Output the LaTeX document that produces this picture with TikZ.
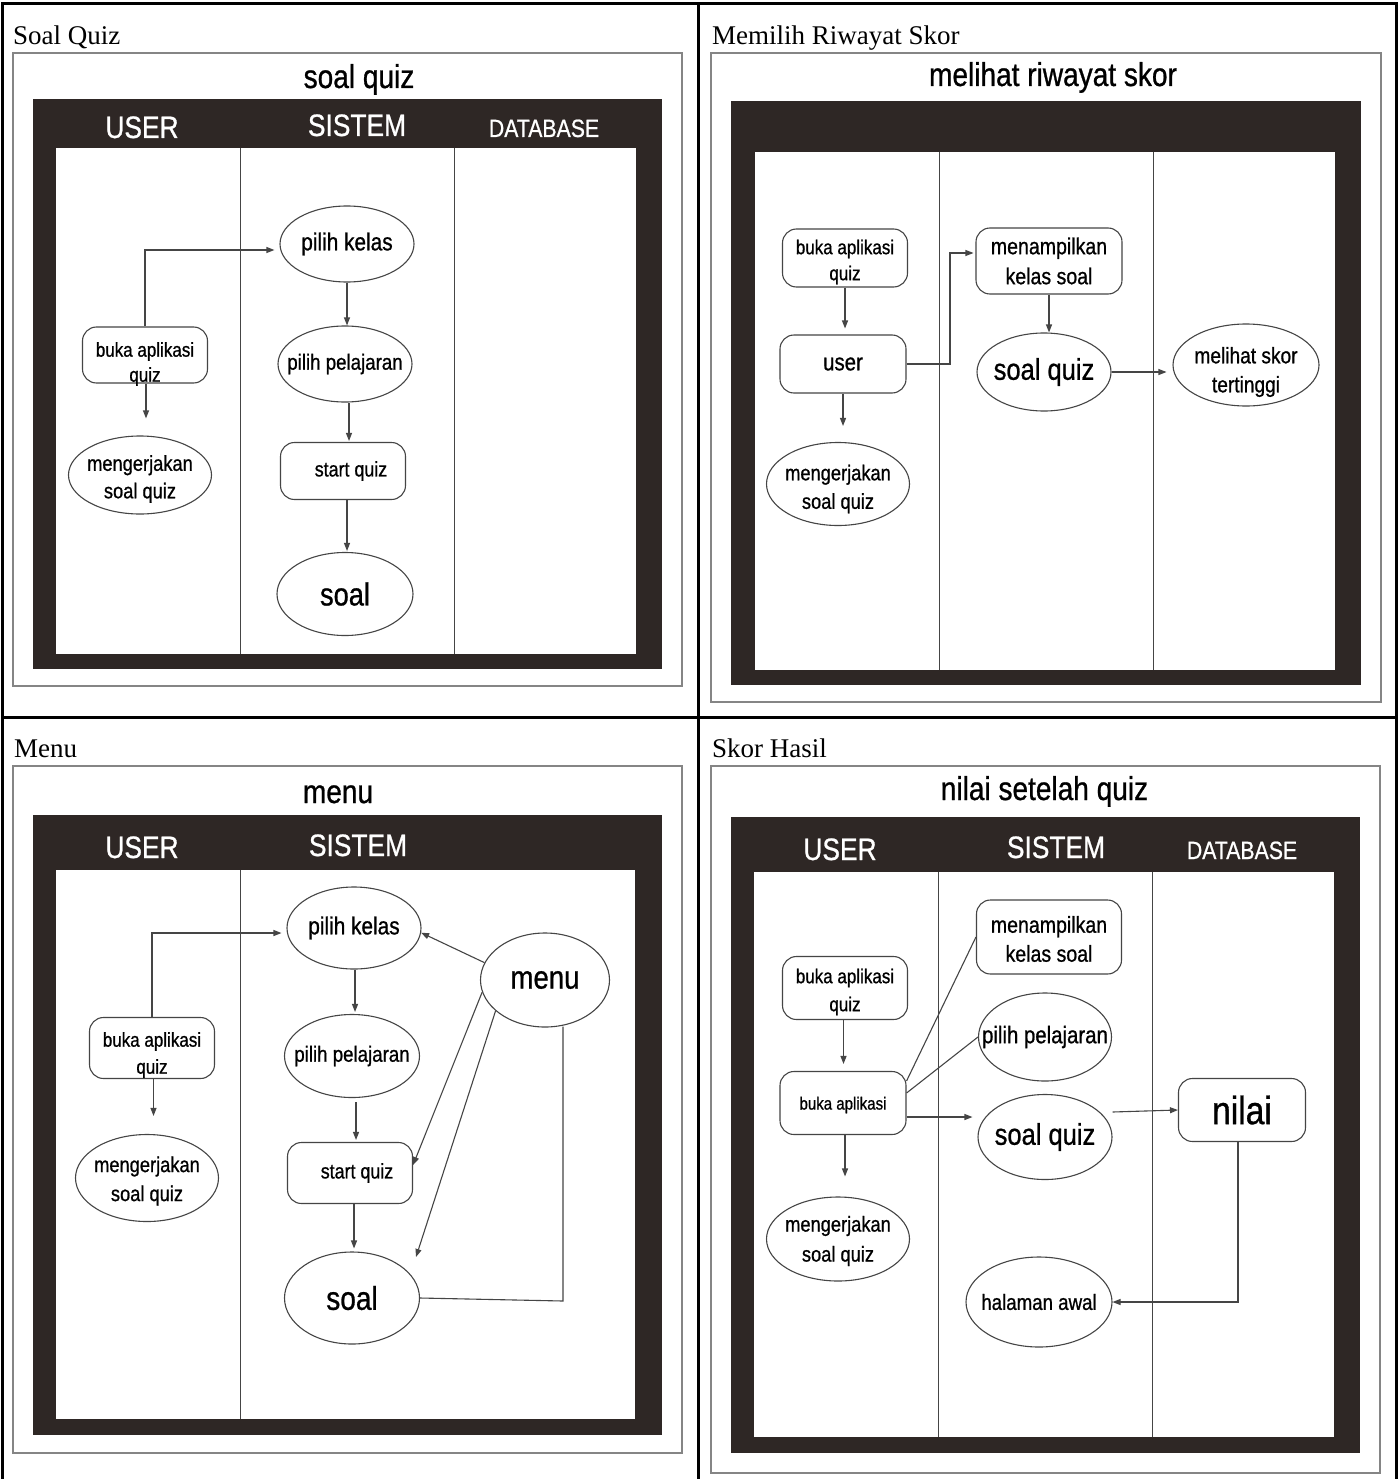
\documentclass[tikz,border=0pt]{standalone}
\usepackage{fontspec}
\setmainfont{Liberation Serif}
\newfontfamily\nf[FakeStretch=0.85,FakeBold=0.8]{Liberation Sans}
\usetikzlibrary{shapes.geometric,arrows.meta,calc}
\definecolor{boxdark}{HTML}{2E2725}
\definecolor{framegray}{HTML}{858585}
\definecolor{linegray}{HTML}{454545}
\newcommand\fz[2]{\fontsize{#1}{#2}\selectfont}
\begin{document}
\begin{tikzpicture}[x=1pt,y=-1pt,
  ell/.style={ellipse, draw=linegray, line width=1.1pt, fill=white, inner sep=0pt},
  rr/.style={rectangle, rounded corners=14pt, draw=linegray, line width=1.1pt, fill=white, inner sep=0pt},
  txt/.style={inner sep=0pt, align=center, font=\nf},
  conn/.style={draw=linegray, line width=1.1pt},
  arr/.style={conn, -{Triangle[length=8pt,width=6pt]}},
  captxt/.style={anchor=base west, font={\fz{27}{30}}, inner sep=0pt},
  ttl/.style={anchor=base, font={\nf\fz{33}{36}}, inner sep=0pt},
  hdr/.style={anchor=base, text=white, font={\nf\fz{31}{34}}, inner sep=0pt},
  hdrs/.style={anchor=base, text=white, font={\nf\fz{25}{28}}, inner sep=0pt},
  frm/.style={draw=framegray, line width=1.2pt},
  lane/.style={draw=linegray, line width=0.9pt},
  gridline/.style={draw=black, line width=3pt}
]
\useasboundingbox (0,0) rectangle (1399,1479);
\fill[white] (0,0) rectangle (1399,1479);

% outer table
\draw[gridline] (1,4) -- (1398,4);
\draw[gridline] (1,717) -- (1398,717);
\draw[gridline] (2,4) -- (2,1479);
\draw[gridline] (698,4) -- (698,1479);
\draw[gridline] (1396,4) -- (1396,1479);

% ================= Panel 1: Soal Quiz =================
\node[captxt] (cap1) at (13,45) {Soal Quiz};
\draw[frm] (13,53) rectangle (682,686);
\fill[boxdark] (33,99) rectangle (662,669);
\fill[white] (56,148) rectangle (636,654);
\draw[lane] (240,148) -- (240,654);
\draw[lane] (454,148) -- (454,654);
\node[ttl] (ttl1) at (359,88) {soal quiz};
\node[hdr] (h1u) at (142,138) {USER};
\node[hdr] (h1s) at (357,136) {SISTEM};
\node[hdrs] (h1d) at (544,137) {DATABASE};

\node[ell, minimum width=134pt, minimum height=76pt] (pk1) at (347,244) {};
\node[txt, font={\nf\fz{24.5}{28}}] (pk1t) at (pk1) {pilih kelas};
\node[ell, minimum width=134pt, minimum height=76pt] (pp1) at (345,364) {};
\node[txt, font={\nf\fz{22}{26}}] (pp1t) at (pp1) {pilih pelajaran};
\node[rr, minimum width=125pt, minimum height=57pt] (sq1) at (343,471) {};
\node[txt, font={\nf\fz{21}{25}}] (sq1t) at ([xshift=8pt]sq1.center) {start quiz};
\node[ell, minimum width=136pt, minimum height=83pt] (soal1) at (345,594) {};
\node[txt, font={\nf\fz{32}{36}}] (soal1t) at (soal1) {soal};
\node[rr, minimum width=125pt, minimum height=56pt] (buka1) at (145,355) {};
\node[txt, font={\nf\fz{20}{25}}] (buka1t) at ([yshift=-9pt]buka1.center) {buka aplikasi\\quiz};
\node[ell, minimum width=143pt, minimum height=78pt] (mk1) at (140,475) {};
\node[txt, font={\nf\fz{21.5}{27.5}}] (mk1t) at ([yshift=-4pt]mk1.center) {mengerjakan\\soal quiz};

\draw[arr, shorten >=5pt] (buka1.north) |- ([yshift=-6pt]pk1.west);
\draw[arr, shorten >=17pt] ([xshift=1pt]buka1.south) -- ([xshift=1pt]buka1.south |- mk1.north);
\draw[arr] (pk1.south) -- (pk1.south |- pp1.north);
\draw[arr, shorten >=1pt] ([xshift=4pt]pp1.south) -- ([xshift=4pt]pp1.south |- sq1.north);
\draw[arr, shorten >=1pt] ([xshift=4pt]sq1.south) -- ([xshift=4pt]sq1.south |- soal1.north);

% ================= Panel 2: Memilih Riwayat Skor =================
\node[captxt] (cap2) at (712,45) {Memilih Riwayat Skor};
\draw[frm] (711,53) rectangle (1381,702);
\fill[boxdark] (731,101) rectangle (1361,685);
\fill[white] (754.5,152) rectangle (1335,670);
\draw[lane] (939,152) -- (939,670);
\draw[lane] (1153,152) -- (1153,670);
\node[ttl] (ttl2) at (1053,86) {melihat riwayat skor};

\node[rr, minimum width=125pt, minimum height=58pt] (buka2) at (845,258) {};
\node[txt, font={\nf\fz{20}{26}}] (buka2t) at ([yshift=-4pt]buka2.center) {buka aplikasi\\quiz};
\node[rr, minimum width=126pt, minimum height=58pt] (user2) at (843,364) {};
\node[txt, font={\nf\fz{24}{28}}] (user2t) at (user2) {user};
\node[ell, minimum width=143pt, minimum height=83pt] (mk2) at (838,484) {};
\node[txt, font={\nf\fz{21.5}{28.5}}] (mk2t) at ([yshift=-5pt]mk2.center) {mengerjakan\\soal quiz};
\node[rr, minimum width=146pt, minimum height=66pt] (mt2) at (1049,261) {};
\node[txt, font={\nf\fz{23}{30}}] (mt2t) at (mt2) {menampilkan\\kelas soal};
\node[ell, minimum width=134pt, minimum height=78pt] (sq2) at (1044,372) {};
\node[txt, font={\nf\fz{30}{34}}] (sq2t) at (sq2) {soal quiz};
\node[ell, minimum width=146pt, minimum height=82pt] (ms2) at (1246,365) {};
\node[txt, font={\nf\fz{22.5}{29}}] (ms2t) at ([yshift=-7pt]ms2.center) {melihat skor\\tertinggi};

\coordinate (k2) at (950,253);
\draw[arr, shorten >=6pt] (buka2.south) -- (buka2.south |- user2.north);
\draw[arr, shorten >=16pt] (user2.south) -- (user2.south |- mk2.north);
\draw[arr, shorten >=2pt] (user2.east) -| (k2) -- (k2 -| mt2.west);
\draw[arr] (mt2.south) -- (mt2.south |- sq2.north);
\draw[arr, shorten >=6pt] (sq2.east) -- (sq2.east -| ms2.west);

% ================= Panel 3: Menu =================
\node[captxt] (cap3) at (14,757) {Menu};
\draw[frm] (13,766) rectangle (682,1453);
\fill[boxdark] (33,815) rectangle (662,1435);
\fill[white] (56,870) rectangle (635,1419);
\draw[lane] (240,870) -- (240,1419);
\node[ttl] (ttl3) at (338,803) {menu};
\node[hdr] (h3u) at (142,858) {USER};
\node[hdr] (h3s) at (358,856) {SISTEM};

\node[ell, minimum width=134pt, minimum height=82pt] (pk3) at (354,928) {};
\node[txt, font={\nf\fz{24.5}{28}}] (pk3t) at (pk3) {pilih kelas};
\node[ell, minimum width=135pt, minimum height=83pt] (pp3) at (352,1056) {};
\node[txt, font={\nf\fz{22}{26}}] (pp3t) at (pp3) {pilih pelajaran};
\node[rr, minimum width=125pt, minimum height=61pt] (sq3) at (350,1173) {};
\node[txt, font={\nf\fz{21}{25}}] (sq3t) at ([xshift=7pt]sq3.center) {start quiz};
\node[ell, minimum width=135pt, minimum height=92pt] (soal3) at (352,1298) {};
\node[txt, font={\nf\fz{33}{37}}] (soal3t) at (soal3) {soal};
\node[ell, minimum width=129pt, minimum height=94pt] (menu3) at (545,980) {};
\node[txt, font={\nf\fz{32.5}{36}}] (menu3t) at (menu3) {menu};
\node[rr, minimum width=125pt, minimum height=61pt] (buka3) at (152,1048) {};
\node[txt, font={\nf\fz{20}{27}}] (buka3t) at ([yshift=-7pt]buka3.center) {buka aplikasi\\quiz};
\node[ell, minimum width=143pt, minimum height=87pt] (mk3) at (147,1178) {};
\node[txt, font={\nf\fz{21.5}{29}}] (mk3t) at ([yshift=-3pt]mk3.center) {mengerjakan\\soal quiz};

\coordinate (m3e) at (416,1257);
\coordinate (c3) at (563,1301);
\draw[arr, shorten >=5pt] (buka3.north) |- ([yshift=-5pt]pk3.west);
\draw[arr, shorten >=18pt] ([xshift=1.5pt]buka3.south) -- ([xshift=1.5pt]buka3.south |- mk3.north);
\draw[arr, shorten >=2pt] ([xshift=1pt]pk3.south) -- ([xshift=1pt]pk3.south |- pp3.north);
\draw[arr, shorten >=2pt, shorten <=4pt] ([xshift=4pt]pp3.south) -- ([xshift=4pt]pp3.south |- sq3.north);
\draw[arr, shorten >=3pt] ([xshift=4pt]sq3.south) -- ([xshift=4pt]sq3.south |- soal3.north);
\draw[arr] (menu3.164) -- (pk3.-4);
\draw[arr] (menu3.191) -- ([yshift=8pt]sq3.east);
\draw[arr] (menu3.212) -- (m3e);
\draw[conn] (soal3.east) -- (c3) -- (c3 |- menu3.-74);

% ================= Panel 4: Skor Hasil =================
\node[captxt] (cap4) at (712,757) {Skor Hasil};
\draw[frm] (711,766) rectangle (1380,1473);
\fill[boxdark] (731,817) rectangle (1360,1453);
\fill[white] (754,872) rectangle (1334,1437);
\draw[lane] (938.5,872) -- (938.5,1437);
\draw[lane] (1152.5,872) -- (1152.5,1437);
\node[ttl] (ttl4) at (1044.5,800) {nilai setelah quiz};
\node[hdr] (h4u) at (840,860) {USER};
\node[hdr] (h4s) at (1056,858) {SISTEM};
\node[hdrs] (h4d) at (1242,859) {DATABASE};

\node[rr, minimum width=125pt, minimum height=63pt] (buka4) at (845,988) {};
\node[txt, font={\nf\fz{20}{28}}] (buka4t) at ([yshift=-4pt]buka4.center) {buka aplikasi\\quiz};
\node[rr, minimum width=126pt, minimum height=63pt] (ba4) at (843,1103) {};
\node[txt, font={\nf\fz{17.7}{21}}] (ba4t) at ([yshift=-2pt]ba4.center) {buka aplikasi};
\node[ell, minimum width=143pt, minimum height=84pt] (mk4) at (838,1239) {};
\node[txt, font={\nf\fz{21.5}{30}}] (mk4t) at ([yshift=-2pt]mk4.center) {mengerjakan\\soal quiz};
\node[rr, minimum width=145pt, minimum height=74pt] (mt4) at (1049,937) {};
\node[txt, font={\nf\fz{23}{29}}] (mt4t) at ([yshift=-2pt]mt4.center) {menampilkan\\kelas soal};
\node[ell, minimum width=133pt, minimum height=88pt] (pp4) at (1045,1037) {};
\node[txt, font={\nf\fz{24}{28}}] (pp4t) at (pp4) {pilih pelajaran};
\node[ell, minimum width=134pt, minimum height=85pt] (sq4) at (1045,1137) {};
\node[txt, font={\nf\fz{30}{34}}] (sq4t) at (sq4) {soal quiz};
\node[rr, minimum width=127pt, minimum height=63pt] (nilai4) at (1242,1110) {};
\node[txt, font={\nf\fz{39.5}{44}}] (nilai4t) at (nilai4) {nilai};
\node[ell, minimum width=146pt, minimum height=90pt] (ha4) at (1039,1302) {};
\node[txt, font={\nf\fz{22}{26}}] (ha4t) at (ha4) {halaman awal};

\draw[arr, shorten >=7pt] ([xshift=-1.5pt]buka4.south) -- ([xshift=-1.5pt]buka4.south |- ba4.north);
\draw[arr, shorten >=20pt] ([xshift=2pt]ba4.south) -- ([xshift=2pt]ba4.south |- mk4.north);
\draw[conn] ([yshift=-10pt]ba4.north east) -- (mt4.west);
\draw[conn] ([yshift=10pt]ba4.east) -- (pp4.west);
\draw[arr, shorten >=5pt] ([yshift=-14pt]ba4.east) -- ([yshift=-14pt]ba4.east -| sq4.west);
\draw[arr] ([yshift=25pt]sq4.east) -- (nilai4.west);
\draw[arr] ([xshift=-4pt]nilai4.south) |- (ha4.east);
\end{tikzpicture}
\end{document}
